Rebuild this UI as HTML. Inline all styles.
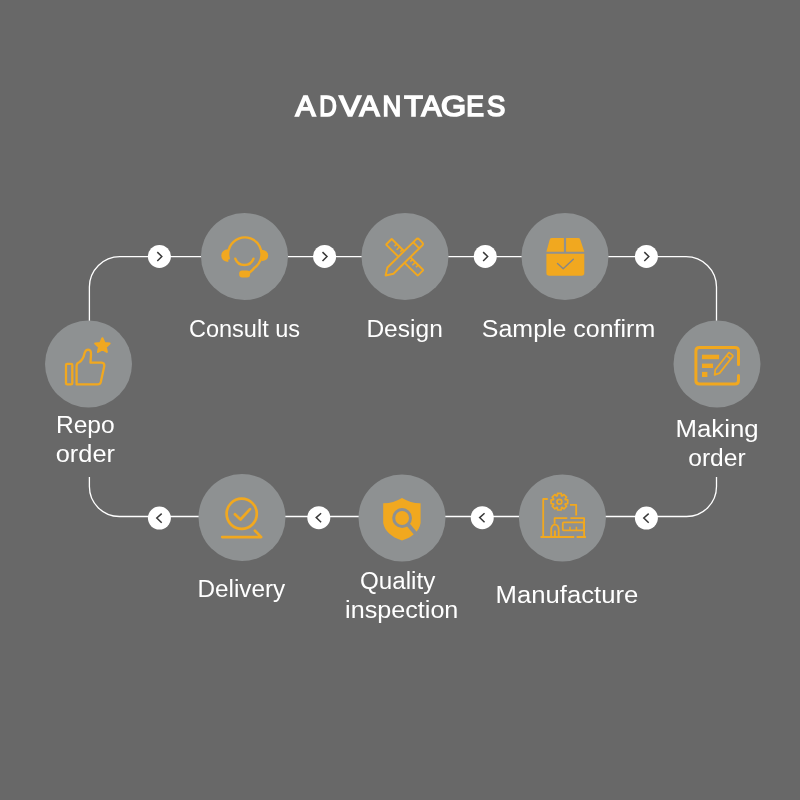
<!DOCTYPE html>
<html><head><meta charset="utf-8">
<style>
html,body{margin:0;padding:0;background:#686868;width:800px;height:800px;overflow:hidden}
svg{display:block;will-change:transform}
text{font-family:"Liberation Sans",sans-serif;fill:#fff}
</style></head>
<body>
<svg width="800" height="800" viewBox="0 0 800 800">
<rect width="800" height="800" fill="#686868"/>
<g fill="none" stroke="#fff" stroke-width="1.3">
<path d="M89.4 330 V287 A30.5 30.5 0 0 1 119.9 256.7 H686 A30.5 30.5 0 0 1 716.5 287 V330"/>
<path d="M89.4 477 V486.5 A30 30 0 0 0 119.4 516.5 H686.5 A30 30 0 0 0 716.5 486.5 V477"/>
</g>
<g font-size="29.5" stroke="#fff" stroke-width="1.7"><text x="295.46" y="116.4" textLength="20.0" lengthAdjust="spacingAndGlyphs">A</text><text x="319.29" y="116.4" textLength="17.56" lengthAdjust="spacingAndGlyphs">D</text><text x="339.39" y="116.4" textLength="21.68" lengthAdjust="spacingAndGlyphs">V</text><text x="359.46" y="116.4" textLength="20.0" lengthAdjust="spacingAndGlyphs">A</text><text x="382.41" y="116.4" textLength="18.71" lengthAdjust="spacingAndGlyphs">N</text><text x="404.35" y="116.4" textLength="18.55" lengthAdjust="spacingAndGlyphs">T</text><text x="421.41" y="116.4" textLength="19.75" lengthAdjust="spacingAndGlyphs">A</text><text x="441.11" y="116.4" textLength="25.12" lengthAdjust="spacingAndGlyphs">G</text><text x="466.35" y="116.4" textLength="17.72" lengthAdjust="spacingAndGlyphs">E</text><text x="487.06" y="116.4" textLength="18.3" lengthAdjust="spacingAndGlyphs">S</text></g>
<text x="188.92" y="337" font-size="23" font-weight="normal" textLength="111.21" lengthAdjust="spacingAndGlyphs">Consult us</text>
<text x="366.41" y="337" font-size="23" font-weight="normal" textLength="76.39" lengthAdjust="spacingAndGlyphs">Design</text>
<text x="481.85" y="336.5" font-size="23" font-weight="normal" textLength="173.33" lengthAdjust="spacingAndGlyphs">Sample confirm</text>
<text x="675.52" y="437" font-size="23" font-weight="normal" textLength="83.05" lengthAdjust="spacingAndGlyphs">Making</text>
<text x="688.26" y="466" font-size="23" font-weight="normal" textLength="57.37" lengthAdjust="spacingAndGlyphs">order</text>
<text x="55.91" y="433" font-size="23" font-weight="normal" textLength="58.74" lengthAdjust="spacingAndGlyphs">Repo</text>
<text x="55.75" y="461.5" font-size="23" font-weight="normal" textLength="59.18" lengthAdjust="spacingAndGlyphs">order</text>
<text x="197.48" y="597" font-size="23" font-weight="normal" textLength="87.75" lengthAdjust="spacingAndGlyphs">Delivery</text>
<text x="360.0" y="588.5" font-size="23" font-weight="normal" textLength="75.31" lengthAdjust="spacingAndGlyphs">Quality</text>
<text x="345.13" y="617.5" font-size="23" font-weight="normal" textLength="113.24" lengthAdjust="spacingAndGlyphs">inspection</text>
<text x="495.6" y="603" font-size="23" font-weight="normal" textLength="142.76" lengthAdjust="spacingAndGlyphs">Manufacture</text>

<g fill="#8e9192">
<circle cx="244.5" cy="256.5" r="43.5"/>
<circle cx="405" cy="256.5" r="43.5"/>
<circle cx="565" cy="256.5" r="43.5"/>
<circle cx="717" cy="364" r="43.5"/>
<circle cx="88.5" cy="364" r="43.5"/>
<circle cx="242" cy="517.5" r="43.5"/>
<circle cx="402" cy="518" r="43.5"/>
<circle cx="562.4" cy="518" r="43.5"/>
</g>
<g fill="#fff">
<circle cx="159.4" cy="256.4" r="11.5"/>
<circle cx="324.6" cy="256.4" r="11.5"/>
<circle cx="485.25" cy="256.4" r="11.5"/>
<circle cx="646.4" cy="256.4" r="11.5"/>
<circle cx="159.4" cy="518.1" r="11.5"/>
<circle cx="318.8" cy="517.7" r="11.5"/>
<circle cx="482.25" cy="517.7" r="11.5"/>
<circle cx="646.4" cy="518.1" r="11.5"/>
</g>
<g fill="none" stroke="#383838" stroke-width="1.5" stroke-linecap="butt" stroke-linejoin="miter">
<path d="M157.30 252.10 L161.80 256.50 L157.30 261.00"/>
<path d="M322.50 252.10 L327.00 256.50 L322.50 261.00"/>
<path d="M483.15 252.10 L487.65 256.50 L483.15 261.00"/>
<path d="M644.30 252.10 L648.80 256.50 L644.30 261.00"/>
<path d="M161.70 513.60 L156.80 518.00 L161.70 522.70"/>
<path d="M321.10 513.20 L316.20 517.60 L321.10 522.30"/>
<path d="M484.55 513.20 L479.65 517.60 L484.55 522.30"/>
<path d="M648.70 513.60 L643.80 518.00 L648.70 522.70"/>
</g>

<!-- consult: headset -->
<g fill="none" stroke="#f1a81f" stroke-linecap="round">
<path d="M228.7 258.4 A16.7 16.7 0 1 1 254.4 267.8 Q252.5 270.5 249 273" stroke-width="2.4"/>
<path d="M235.3 258.7 A9.74 9.74 0 0 0 253.5 258.7" stroke-width="2.4"/>
</g>
<g fill="#f1a81f">
<path d="M228.3 249.2 V262 Q221.3 261.5 221.3 255.6 Q221.3 249.8 228.3 249.2 Z"/>
<path d="M261.4 249.8 V261.2 Q268.2 260.6 268.2 255.5 Q268.2 250.4 261.4 249.8 Z"/>
<rect x="239.2" y="270.6" width="10.9" height="6.8" rx="3"/>
</g>

<!-- design: ruler + pencil -->
<g fill="none" stroke="#f1a81f" stroke-width="2" stroke-linejoin="round">
<g transform="translate(404.7 257.3) rotate(44.5)">
<rect x="-22.2" y="-4" width="44.4" height="8" rx="0.8"/>
<path d="M-15 -4 V-0.8 M-11 -4 V0.3 M-7 -4 V-0.8 M7 -4 V-0.8 M11 -4 V0.3 M15 -4 V-0.8" stroke-width="1.6"/>
</g>
<g transform="translate(403 258.3) rotate(-44.5)">
<path d="M-24.4 0 L-17.6 -4.3 H22.6 Q24.8 -4.3 24.8 -2.1 V2.1 Q24.8 4.3 22.6 4.3 H-17.6 Z" fill="#8e9192"/>
<path d="M18.5 -4.3 V4.3"/>
</g>
</g>

<!-- sample: box -->
<g fill="#f1a81f">
<path d="M551.5 238 H563.9 V251.8 H546.4 L549.6 240 Q550 238 551.5 238 Z"/>
<path d="M566.1 238 H578.5 Q580 238 580.4 240 L584.3 251.8 H566.1 Z"/>
<path d="M546.4 253.8 H584.3 V273 Q584.3 275.8 581.5 275.8 H549.2 Q546.4 275.8 546.4 273 Z"/>
</g>
<path d="M557.5 263.5 L563.2 268.8 L573.3 259.3" fill="none" stroke="#858789" stroke-width="1.4" stroke-linecap="round" stroke-linejoin="round"/>

<!-- making order: form + pencil -->
<g fill="none" stroke="#f1a81f" stroke-width="3" stroke-linecap="round" stroke-linejoin="round">
<path d="M738.5 364.6 V351 Q738.5 347.5 735 347.5 H699.4 Q695.9 347.5 695.9 351 V380.4 Q695.9 383.9 699.4 383.9 H735 Q738.5 383.9 738.5 380.4 V375.4"/>
</g>
<g fill="#f1a81f">
<rect x="702" y="354.7" width="17.1" height="4.5"/>
<rect x="702" y="363.6" width="11" height="4.4"/>
<rect x="702" y="371.9" width="5.4" height="5.1"/>
</g>
<g transform="translate(722.9 364.5) rotate(-51.5)" fill="none" stroke="#f1a81f" stroke-width="1.8" stroke-linejoin="round">
<path d="M-13.2 0 L-8.8 -2.7 H12.2 Q13.3 -2.7 13.3 -1.6 V1.6 Q13.3 2.7 12.2 2.7 H-8.8 Z"/>
<path d="M9.2 -2.7 V2.7"/>
</g>

<!-- repo: thumbs up + star -->
<path fill="#f1a81f" d="M102.40 338.20 L104.52 342.89 L109.63 343.45 L105.82 346.91 L106.87 351.95 L102.40 349.40 L97.93 351.95 L98.98 346.91 L95.17 343.45 L100.28 342.89 Z" stroke="#f1a81f" stroke-width="2" stroke-linejoin="round"/>
<g fill="none" stroke="#f1a81f" stroke-width="2.3" stroke-linejoin="round">
<rect x="66" y="363.8" width="6.3" height="20.6" rx="1.2"/>
<path d="M76.6 384.4 V366 Q76.6 363.2 79.2 362.2 Q83.3 359.8 84.6 353 Q85.6 349.6 88.2 349.6 Q91.3 349.8 91 354.5 L90.5 362.6 H101.6 Q104.5 362.8 104.3 366 L100.8 382 Q100.2 384.4 97.6 384.4 Z"/>
</g>

<!-- delivery -->
<g fill="none" stroke="#f1a81f" stroke-width="2.7" stroke-linecap="round" stroke-linejoin="round">
<circle cx="241.7" cy="513.8" r="15.1"/>
<path d="M234.9 514.3 L240.5 519.5 L250 509.1"/>
<path d="M222.2 537.1 H261.2 L254.9 530.6"/>
</g>

<!-- quality: shield + magnifier -->
<path fill="#f1a81f" d="M402 498 Q393 503.4 383.2 503.2 V523 Q385.5 535 402 540.6 Q418.5 535 420.6 523 V503.2 Q411 503.4 402 498 Z"/>
<circle cx="402.1" cy="518" r="8.4" fill="none" stroke="#8e9192" stroke-width="3"/>
<path d="M407.6 524 L418.5 537" stroke="#8e9192" stroke-width="4"/>

<!-- manufacture -->
<g fill="none" stroke="#f1a81f" stroke-width="1.8" stroke-linejoin="round" stroke-linecap="butt">
<path d="M547.8 499 H543.2 V537"/>
<path d="M570 504.8 H576.2 V515.6"/>
<path d="M554.6 523.8 V518.2 H567.3 M570.4 518.2 H584.1 V537"/>
<rect x="562.8" y="522.4" width="21" height="8" rx="0.8"/>
<path d="M570 530.4 V526.8 M576.4 530.4 V526.8" stroke-width="1.6"/>
<path d="M551.2 537 V530.5 Q551.2 524.6 554.9 524.6 Q558.7 524.6 558.7 530.5 V537"/>
<path d="M554.9 530.5 V537" stroke-width="2"/>
<path d="M540.5 537 H574.2 M576.6 537 H585.9"/>
</g>
<g transform="translate(559.4 501.7)" fill="none" stroke="#f1a81f" stroke-width="1.7" stroke-linejoin="round">
<path id="gear" d="M5.94 -2.10 L8.30 -1.85 L8.30 1.85 L5.94 2.10 L5.69 2.71 L7.18 4.55 L4.55 7.18 L2.71 5.69 L2.10 5.94 L1.85 8.30 L-1.85 8.30 L-2.10 5.94 L-2.71 5.69 L-4.55 7.18 L-7.18 4.55 L-5.69 2.71 L-5.94 2.10 L-8.30 1.85 L-8.30 -1.85 L-5.94 -2.10 L-5.69 -2.71 L-7.18 -4.55 L-4.55 -7.18 L-2.71 -5.69 L-2.10 -5.94 L-1.85 -8.30 L1.85 -8.30 L2.10 -5.94 L2.71 -5.69 L4.55 -7.18 L7.18 -4.55 L5.69 -2.71 Z"/>
<circle r="2.4"/>
</g>

</svg>
</body></html>
